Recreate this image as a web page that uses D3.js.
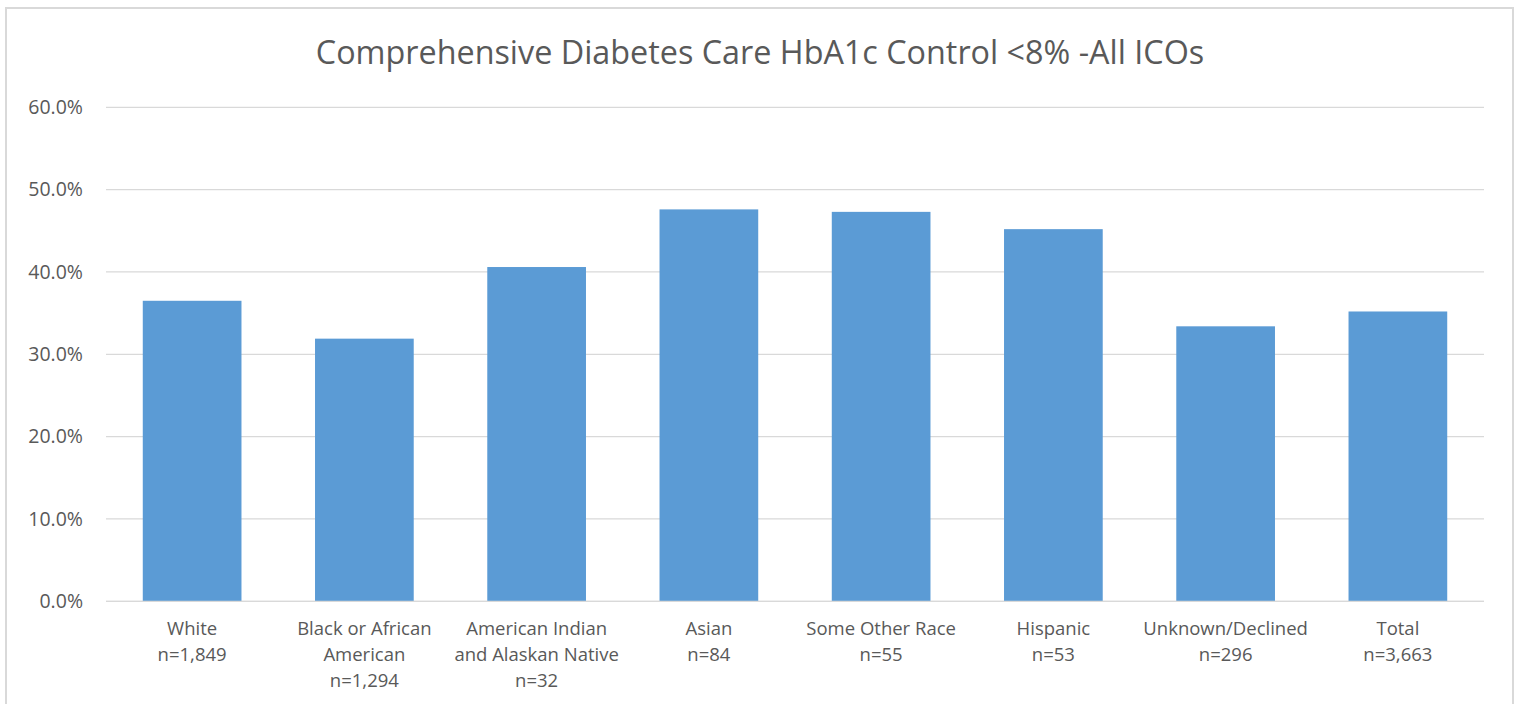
<!DOCTYPE html>
<html><head><meta charset="utf-8">
<script src="https://cdn.jsdelivr.net/npm/d3@7"></script>
<style>body{margin:0;background:#fff;} svg{display:block;} text{font-family:"Open Sans",sans-serif;fill:#595959;}</style>
</head><body>
<svg id="c" width="1521" height="704"></svg>
<script>
const categories = ["White|n=1,849","Black or African|American|n=1,294","American Indian|and Alaskan Native|n=32","Asian|n=84","Some Other Race|n=55","Hispanic|n=53","Unknown/Declined|n=296","Total|n=3,663"];
const values = [36.5, 31.9, 40.6, 47.6, 47.3, 45.2, 33.4, 35.2];
const yTicks = [0,10,20,30,40,50,60];
const title = "Comprehensive Diabetes Care HbA1c Control <8% -All ICOs";

const svg = d3.select("#c");
svg.append("rect").attr("x",6).attr("y",8).attr("width",1507).attr("height",720)
  .attr("fill","#fff").attr("stroke","#d9d9d9").attr("stroke-width",2);

const x = d3.scaleBand().domain(categories).range([106,1484]).paddingInner(0.427).paddingOuter(0.2135);
const y = d3.scaleLinear().domain([0,60]).range([601.3,107.3]);

const grid = svg.append("g");
grid.selectAll("line").data(yTicks).join("line")
  .attr("x1",106).attr("x2",1484).attr("y1",d=>y(d)).attr("y2",d=>y(d))
  .attr("stroke","#d9d9d9").attr("stroke-width",1.3);

const yAxis = svg.append("g").attr("transform","translate(83,0)")
  .call(d3.axisLeft(y).tickValues(yTicks).tickFormat(d=>d.toFixed(1)+"%").tickSize(0).tickPadding(0));
yAxis.select(".domain").remove();
yAxis.selectAll("text").style("font-family","'Open Sans',sans-serif").style("font-size","19.5px").attr("fill","#595959");

svg.append("g").selectAll("rect").data(values).join("rect")
  .attr("x",(d,i)=>x(categories[i])).attr("width",x.bandwidth())
  .attr("y",d=>y(d)).attr("height",d=>y(0)-y(d)).attr("fill","#5b9bd5");

svg.append("line").attr("x1",106).attr("x2",1484).attr("y1",y(0)).attr("y2",y(0))
  .attr("stroke","#d9d9d9").attr("stroke-width",1.3);

const xAxis = svg.append("g").attr("transform",`translate(0,${y(0)})`)
  .call(d3.axisBottom(x).tickSize(0).tickFormat(""));
xAxis.select(".domain").remove();
xAxis.selectAll(".tick").each(function(d){
  const lines = d.split("|");
  const t = d3.select(this).append("text").attr("text-anchor","middle")
    .style("font-size","18.5px").attr("fill","#595959");
  lines.forEach((l,i)=>t.append("tspan").attr("x",0).attr("y",34+i*26).text(l));
});

const tt = svg.append("text").attr("x",760).attr("y",64).attr("text-anchor","middle")
  .style("font-size","30px").text(title);
const w = tt.node().getComputedTextLength();
tt.style("font-size",(30*889/w).toFixed(2)+"px");
</script>
</body></html>
